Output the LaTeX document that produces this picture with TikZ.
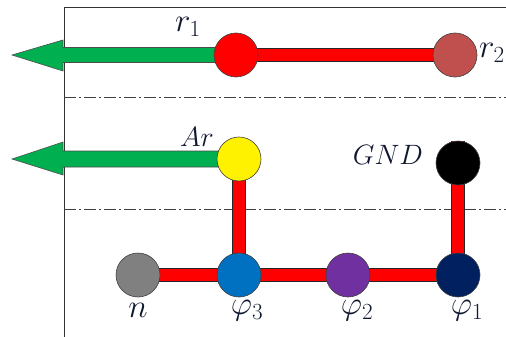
\RequirePackage{fix-cm}
\documentclass[tikz,border=0pt]{standalone}
\usetikzlibrary{calc}
\definecolor{rtwo}{HTML}{C0504D}
\definecolor{garrow}{HTML}{00B050}
\definecolor{phithree}{HTML}{0070C0}
\definecolor{phitwo}{HTML}{7030A0}
\definecolor{phione}{HTML}{002060}
\definecolor{ngray}{HTML}{808080}
\definecolor{lbl}{HTML}{101830}
\pgfdeclarelayer{back}
\pgfdeclarelayer{mid}
\pgfsetlayers{back,mid,main}
\tikzset{
  ball/.style={circle, minimum size=44pt, inner sep=0pt, draw=black!75, line width=0.6pt},
  bar/.style={draw=black!85, line width=0.7pt, double=red, double distance=12pt},
  frameline/.style={draw=black!80, line width=0.8pt},
  axisline/.style={draw=black!75, line width=0.8pt, dash pattern=on 12pt off 3pt on 2pt off 3pt},
  greenarrow/.style={fill=garrow, draw=black!70, line width=0.6pt, line join=miter},
  biglbl/.style={text=lbl, font=\fontsize{33}{38}\selectfont, inner sep=0pt},
  midlbl/.style={text=lbl, font=\fontsize{28}{32}\selectfont, inner sep=0pt}
}
\begin{document}
\begin{tikzpicture}[x=1pt,y=-1pt]
\useasboundingbox (0,0) rectangle (506,337);
% nodes
\node[ball, fill=red] (r1) at (236,55) {};
\node[ball, fill=rtwo] (r2) at (455,55) {};
\node[ball, fill=yellow] (ar) at (239,159) {};
\node[ball, fill=black] (gnd) at (458,163) {};
\node[ball, fill=ngray] (n) at (138,275) {};
\node[ball, fill=phithree] (p3) at (239,275) {};
\node[ball, fill=phitwo] (p2) at (348,275) {};
\node[ball, fill=phione] (p1) at (458,275) {};
\coordinate (tip1) at (12,55);
\coordinate (tip2) at (12,159);
% labels
\node[biglbl] (lr1) at (188,27) {$r_1$};
\node[biglbl, anchor=east] (lr2) at (505,53) {$r_2$};
\node[midlbl] (lar) at (197,137) {$Ar$};
\node[midlbl] (lgnd) at (388,155) {$GND$};
\node[biglbl] (ln) at (138,310) {$n$};
\node[biglbl] (lp3) at (247,311) {$\varphi_3$};
\node[biglbl] (lp2) at (357,311) {$\varphi_2$};
\node[biglbl] (lp1) at (467,311) {$\varphi_1$};
\begin{pgfonlayer}{back}
  \draw[frameline] (64,337) -- (64,7) -- (506,7);
  \draw[axisline] (64,97) -- (506,97);
  \draw[axisline] (64,209) -- (506,209);
\end{pgfonlayer}
\begin{pgfonlayer}{mid}
  \draw[bar] (r1.center) -- (r2.center);
  \draw[bar] (ar.center) -- (p3.center);
  \draw[bar] (gnd.north) -- (p1.center);
  \draw[bar] (n.center) -- (p3.center);
  \draw[bar] (p3.center) -- (p2.center);
  \draw[bar] (p2.center) -- (p1.center);
  \draw[greenarrow] ($(r1.center)+(0,-7.5)$) -- (63,47.5) -- (63,40) -- (tip1) -- (63,71) -- (63,62.5) -- ($(r1.center)+(0,7.5)$);
  \draw[greenarrow] ($(ar.center)+(0,-8)$) -- (63,151) -- (63,142) -- (tip2) -- (63,175) -- (63,167) -- ($(ar.center)+(0,8)$);
\end{pgfonlayer}
\end{tikzpicture}
\end{document}
